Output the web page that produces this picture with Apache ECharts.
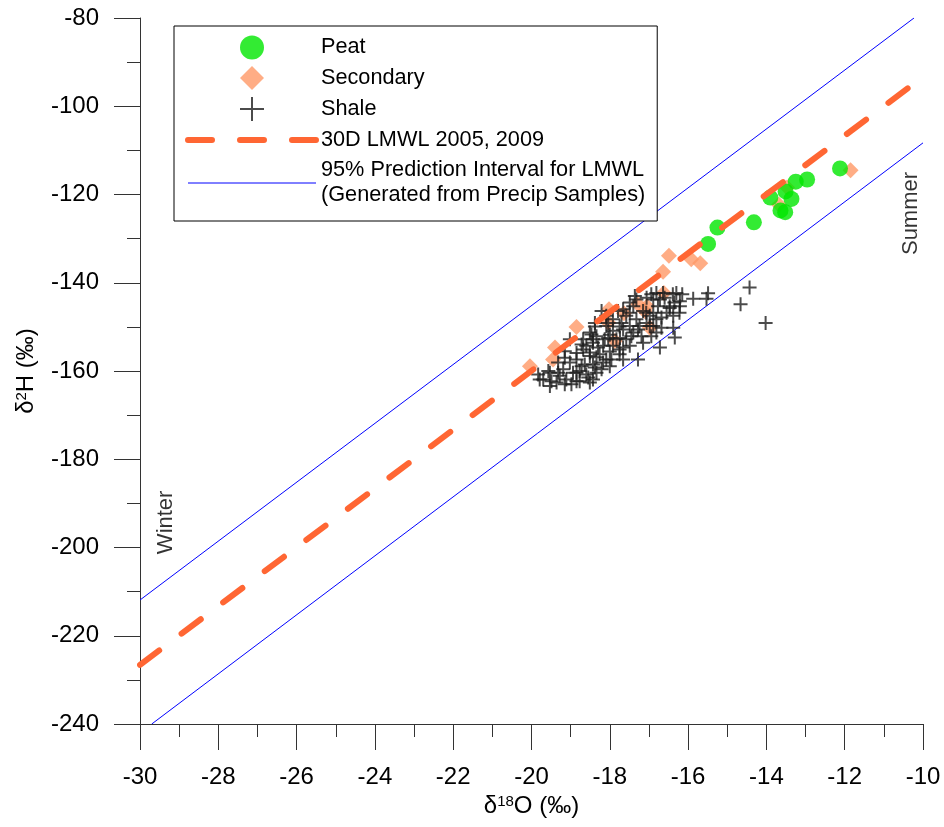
<!DOCTYPE html>
<html>
<head>
<meta charset="utf-8">
<script src="https://cdn.jsdelivr.net/npm/echarts@6/dist/echarts.min.js"></script>
<style>
  html, body { margin: 0; padding: 0; background: #fff; }
  #chart { width: 944px; height: 827px; }
</style>
</head>
<body>
<div id="chart"></div>
<script>
// Axis ranges and tick steps (per mil)
const xRange = [-30, -10];
const xStep = 2;
const yRange = [-240, -80];
const yStep = 20;

// Series names
const PEAT = 'Peat';
const SECONDARY = 'Secondary';
const SHALE = 'Shale';
const LMWL = '30D LMWL 2005, 2009';
const PI = '95% Prediction Interval for LMWL\n(Generated from Precip Samples)';

// Sample points: [δ18O, δ2H]
const peatData = [
  [-15.49, -131.2], [-15.25, -127.5], [-14.32, -126.3], [-13.90, -120.7],
  [-13.64, -123.6], [-13.52, -124.0], [-13.51, -119.3], [-13.36, -121.0],
  [-13.25, -117.1], [-12.96, -116.6], [-12.12, -114.1]
];

const secondaryData = [
  [-11.85, -114.5], [-13.47, -118.4], [-13.68, -122.3], [-16.49, -133.9],
  [-15.92, -134.7], [-15.69, -135.6], [-16.64, -137.5], [-16.62, -142.3],
  [-17.05, -145.3], [-18.02, -146.0], [-17.64, -146.9], [-18.04, -149.0],
  [-18.85, -150.0], [-19.40, -154.7], [-19.45, -157.4], [-20.04, -158.9],
  [-17.87, -153.2], [-17.28, -144.9], [-16.98, -150.2], [-17.11, -146.4]
];

const shaleData = [
  [-14.43, -141.1], [-14.66, -144.9], [-14.02, -149.1], [-15.49, -142.4],
  [-15.53, -143.6], [-15.87, -143.6], [-16.15, -142.6], [-16.39, -142.6],
  [-16.35, -144.5], [-16.22, -146.8], [-16.34, -152.4], [-17.36, -143.0],
  [-16.94, -142.6], [-16.60, -143.4], [-16.30, -142.3], [-16.21, -144.2],
  [-16.47, -145.7], [-16.77, -145.3], [-17.07, -146.8], [-16.68, -147.9],
  [-17.49, -146.8], [-17.66, -146.0], [-18.21, -146.4], [-18.38, -149.1],
  [-18.04, -149.1], [-17.70, -149.1], [-17.28, -150.6], [-16.89, -149.8],
  [-16.94, -152.1], [-17.45, -152.1], [-17.74, -152.5], [-18.04, -152.5],
  [-18.43, -152.8], [-17.92, -154.3], [-17.66, -154.7], [-18.30, -154.7],
  [-16.72, -154.7], [-16.72, -143.8], [-16.89, -143.8], [-17.32, -143.8],
  [-17.40, -145.3], [-17.15, -146.4], [-16.98, -147.5], [-16.81, -148.3],
  [-17.06, -149.1], [-17.24, -149.8], [-16.68, -150.2], [-16.81, -151.3],
  [-17.28, -157.4], [-17.58, -147.5], [-17.75, -149.9], [-17.66, -150.6],
  [-17.92, -148.3], [-18.38, -149.9], [-18.34, -152.1], [-18.00, -151.8],
  [-17.83, -152.8], [-17.75, -155.1], [-18.00, -155.6], [-18.17, -154.3],
  [-18.51, -156.6], [-18.34, -156.9], [-18.68, -155.1], [-19.02, -152.8],
  [-19.15, -155.5], [-18.85, -157.4], [-18.64, -158.5], [-18.43, -158.5],
  [-18.17, -158.1], [-17.96, -157.4], [-17.75, -156.2], [-18.85, -160.4],
  [-18.60, -160.8], [-18.34, -160.4], [-18.77, -162.3], [-18.51, -162.6],
  [-19.11, -161.9], [-19.19, -159.6], [-19.32, -158.1], [-19.53, -160.4],
  [-19.53, -163.4], [-19.83, -160.8], [-19.70, -161.9], [-19.36, -162.6],
  [-18.98, -163.0], [-18.77, -160.0], [-18.26, -156.2], [-18.60, -154.3],
  [-17.58, -152.8], [-17.40, -151.3], [-17.19, -152.1], [-17.32, -148.3],
  [-17.49, -149.8], [-16.98, -149.8], [-16.89, -146.8], [-16.55, -146.8],
  [-16.38, -147.5], [-16.21, -145.3], [-16.47, -145.3], [-16.64, -142.3],
  [-16.38, -150.2], [-18.09, -149.8], [-18.51, -151.3], [-18.68, -152.8],
  [-18.43, -153.6], [-18.00, -158.9], [-18.21, -159.6], [-17.66, -157.4],
  [-17.49, -154.3], [-17.15, -153.6], [-18.85, -155.9], [-19.02, -158.1],
  [-19.28, -161.1], [-18.43, -161.9], [-16.81, -142.3], [-17.06, -143.4],
  [-17.49, -144.5], [-17.79, -146.4], [-18.09, -147.5], [-17.92, -150.9],
  [-18.13, -152.8], [-18.47, -151.7], [-18.72, -154.0], [-18.51, -155.8],
  [-18.09, -157.4], [-19.15, -157.0], [-18.72, -158.9], [-18.38, -159.2],
  [-18.94, -160.4], [-19.32, -160.4], [-19.57, -160.0], [-19.79, -161.9],
  [-19.49, -162.3], [-19.15, -163.0], [-18.85, -162.3], [-18.55, -161.5]
];

// Line endpoints: [δ18O, δ2H]
const lmwlLine = [[-30, -226.6], [-10.25, -95.0]];
const piUpper = [[-30, -211.9], [-10.23, -80]];
const piLower = [[-29.70, -240], [-10, -108.3]];

// Season annotations: [δ18O, δ2H, text]
const seasonNotes = [[-29.34, -194.3, 'Winter'], [-10.32, -124.3, 'Summer']];

const FONT = '"Liberation Sans", Arial, Helvetica, sans-serif';
const INK = '#333';
const CROSS = '#1e1e1e';
const NO_FILL = 'rgba(0,0,0,0)';
// Marker shapes as unit paths so they keep a square aspect in the legend too
const DIAMOND = 'path://M0,-1L1,0L0,1L-1,0Z';
const PLUS = 'path://M0,-1L0,1M-1,0L1,0';

const chart = echarts.init(document.getElementById('chart'), null, { renderer: 'canvas' });

const axisCommon = {
  splitLine: { show: false },
  axisLine: { show: true, onZero: false, lineStyle: { color: INK, width: 1 } },
  axisTick: { show: true, inside: false, length: 26, lineStyle: { color: INK, width: 1 } },
  minorTick: { show: true, splitNumber: 2, length: 13, lineStyle: { color: INK, width: 1 } },
  axisLabel: { color: '#000', fontSize: 24, fontFamily: FONT, margin: 41 },
  nameLocation: 'middle',
  nameTextStyle: {
    color: '#000', fontSize: 24, fontFamily: FONT,
    rich: {
      a: { fontSize: 24, fontFamily: FONT, color: '#000' },
      s: { fontSize: 15, fontFamily: FONT, color: '#000', verticalAlign: 'top' }
    }
  }
};

const option = {
  backgroundColor: '#fff',
  animation: false,
  grid: { left: 140, right: 21, top: 18, bottom: 103, containLabel: false },
  xAxis: Object.assign({}, axisCommon, {
    type: 'value', min: xRange[0], max: xRange[1], interval: xStep,
    name: '{a|δ}{s|18}{a|O (‰)}',
    nameGap: 70,
    position: 'bottom'
  }),
  yAxis: Object.assign({}, axisCommon, {
    type: 'value', min: yRange[0], max: yRange[1], interval: yStep,
    name: '{a|δ}{s|2}{a|H (‰)}',
    nameGap: 102,
    nameRotate: 90,
    position: 'left'
  }),
  legend: {
    data: [PEAT, SECONDARY, SHALE, LMWL, PI],
    orient: 'vertical',
    left: 174,
    top: 26,
    itemWidth: 128,
    itemHeight: 24,
    itemGap: 5.5,
    itemTextGap: 13,
    padding: [9, 12, 13, 11],
    borderColor: '#000',
    borderWidth: 1,
    backgroundColor: '#fff',
    selectedMode: false,
    symbolKeepAspect: true,
    lineStyle: { width: 'inherit' },
    textStyle: { color: '#000', fontSize: 21.7, fontFamily: FONT, lineHeight: 25 }
  },
  series: [
    {
      name: PI, type: 'line', data: piUpper, symbol: 'none', z: 1,
      itemStyle: { color: NO_FILL, borderWidth: 0 },
      lineStyle: { color: '#0000ff', width: 1 }, silent: true
    },
    {
      name: PI, type: 'line', data: piLower, symbol: 'none', z: 1,
      itemStyle: { color: NO_FILL, borderWidth: 0 },
      lineStyle: { color: '#0000ff', width: 1 }, silent: true
    },
    {
      name: SECONDARY, type: 'scatter', data: secondaryData, z: 2,
      symbol: DIAMOND, symbolSize: 16, symbolKeepAspect: true,
      itemStyle: { color: '#ff9966' }
    },
    {
      name: SHALE, type: 'scatter', data: shaleData, z: 3,
      symbol: PLUS, symbolSize: 14, symbolKeepAspect: true,
      itemStyle: { color: CROSS, borderColor: CROSS, borderWidth: 2 }
    },
    {
      name: PEAT, type: 'scatter', data: peatData, z: 4,
      symbol: 'circle', symbolSize: 16,
      itemStyle: { color: '#00e600' }
    },
    {
      name: LMWL, type: 'line', data: lmwlLine, symbol: 'none', z: 5,
      itemStyle: { color: NO_FILL, borderWidth: 0 },
      lineStyle: { color: '#ff6633', width: 6, type: [24, 28], cap: 'round' },
      silent: true
    },
    {
      name: 'notes', type: 'scatter', z: 6, silent: true,
      data: seasonNotes.map(n => ({ value: [n[0], n[1]], label: { formatter: n[2] } })),
      symbolSize: 0,
      itemStyle: { color: NO_FILL },
      label: {
        show: true, position: 'inside', rotate: 90,
        color: '#000', fontSize: 22, fontFamily: FONT,
        align: 'center', verticalAlign: 'middle'
      }
    }
  ]
};

chart.setOption(option);
</script>
</body>
</html>
